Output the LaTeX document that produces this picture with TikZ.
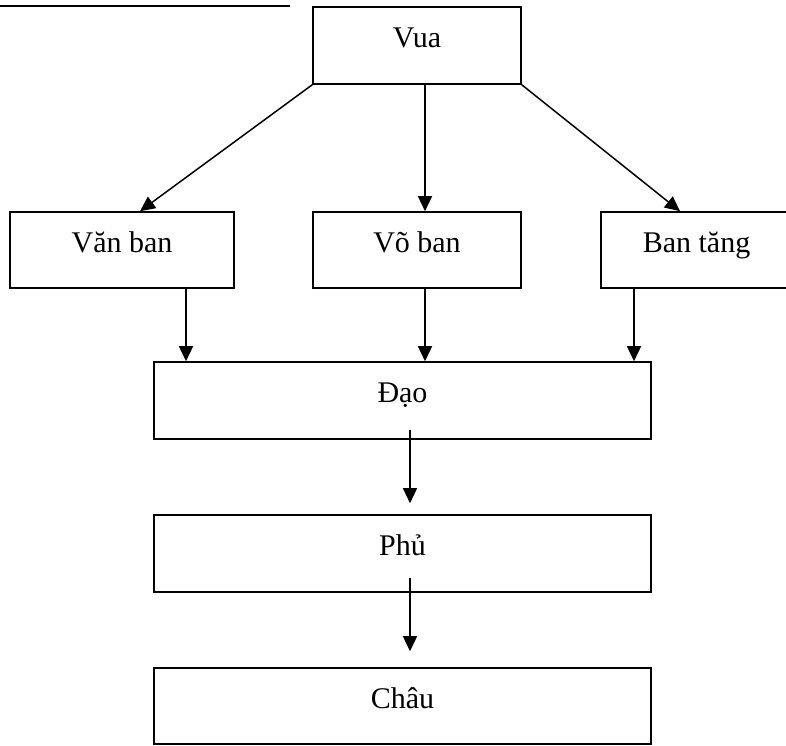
\documentclass[tikz,border=0pt]{standalone}
\usepackage{fontspec}
\setmainfont{Liberation Serif}
\usetikzlibrary{arrows.meta}
\begin{document}
\begin{tikzpicture}[x=1pt,y=-1pt,
  box/.style={draw, line width=1.6pt, inner sep=0pt, text height=40pt, text depth=36pt,
    font=\fontsize{30}{36}\selectfont, align=center},
  arr/.style={line width=1.5pt, -{Triangle[length=15pt,width=14pt]}},
  rule/.style={line width=2pt}]
\useasboundingbox (0,0) rectangle (786,745);
\node[box, minimum width=208pt, minimum height=77pt] (vua) at (417,45.5) {Vua};
\node[box, minimum width=224pt, minimum height=76pt] (van) at (122,250) {Văn ban};
\node[box, minimum width=208pt, minimum height=76pt] (vo) at (417,250) {Võ ban};
\node[box, minimum width=191pt, minimum height=76pt] (ban) at (696.5,250) {Ban tăng};
\node[box, minimum width=497pt, minimum height=77pt] (dao) at (402.5,400.5) {Đạo};
\node[box, minimum width=497pt, minimum height=77pt] (phu) at (402.5,553.5) {Phủ};
\node[box, minimum width=497pt, minimum height=76pt] (chau) at (402.5,706) {Châu};
\coordinate (rl) at (0,6);
\coordinate (rr) at (290,6);
\draw[rule] (rl) -- (rr);
% Vua to the three ban
\draw[arr] (vua.south west) -- ([xshift=18pt]van.north);
\draw[arr] ([xshift=8pt]vua.south) -- ([xshift=8pt]vo.north);
\draw[arr] (vua.south east) -- ([xshift=-16.5pt]ban.north);
% ban to Dao
\draw[arr] ([xshift=64pt,yshift=2pt]van.south) coordinate (a1) -- (a1 |- dao.north);
\draw[arr] ([xshift=8pt,yshift=2pt]vo.south) coordinate (a2) -- (a2 |- dao.north);
\draw[arr] ([xshift=-62.5pt,yshift=2pt]ban.south) coordinate (a3) -- (a3 |- dao.north);
% Dao to Phu to Chau
\draw[arr] ([xshift=7.5pt,yshift=10pt]dao.south) -- ([xshift=7.5pt,yshift=11pt]phu.north);
\draw[arr] ([xshift=7.5pt,yshift=15pt]phu.south) -- ([xshift=7.5pt,yshift=16pt]chau.north);
\end{tikzpicture}
\end{document}
